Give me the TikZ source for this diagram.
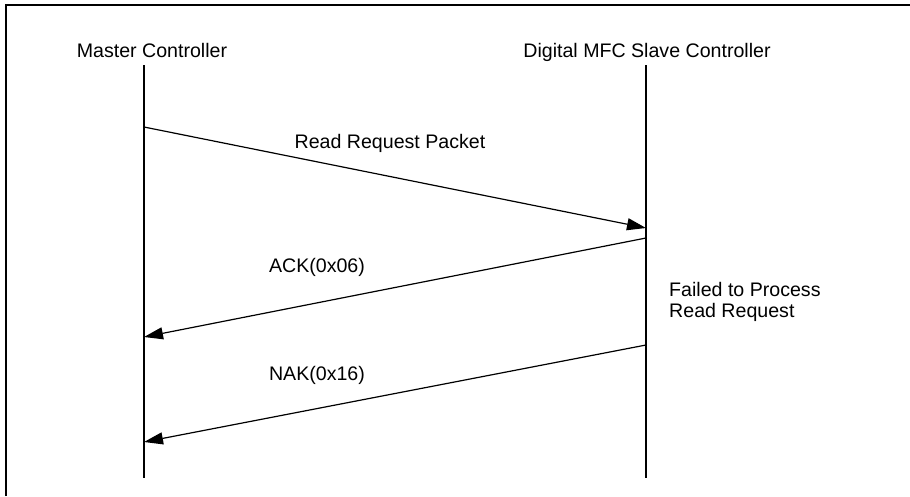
\documentclass[tikz,border=0pt]{standalone}
\usepackage{fontspec}
\setmainfont{Liberation Sans}
\usetikzlibrary{arrows.meta}
\begin{document}
\begin{tikzpicture}[x=1pt,y=-1pt,
  lbl/.style={font=\fontsize{19.6}{21.5}\selectfont, inner sep=0pt, anchor=base},
  life/.style={line width=1.8pt},
  msg/.style={line width=1.2pt, -{Triangle[length=19pt,width=12pt]}}]
\useasboundingbox (0,0) rectangle (910,496);
\draw[line width=2.2pt] (6,496) -- (6,5) -- (910,5);
% lifeline endpoints
\coordinate (mtop) at (144,65);
\coordinate (mbot) at (144,478);
\coordinate (stop) at (646,65);
\coordinate (sbot) at (646,478);
\draw[life] (mtop) -- (mbot);
\draw[life] (stop) -- (sbot);
\node[lbl] (mlabel) at (152,57) {Master Controller};
\node[lbl] (slabel) at (647,57) {Digital MFC Slave Controller};
% messages
\coordinate (a1) at (144,127);
\coordinate (b1) at (646,228);
\coordinate (a2) at (646,238);
\coordinate (b2) at (144,337);
\coordinate (a3) at (646,345);
\coordinate (b3) at (144,442);
\draw[msg] (a1) -- (b1);
\draw[msg] (a2) -- (b2);
\draw[msg] (a3) -- (b3);
\node[lbl] (l1) at (390,148) {Read Request Packet};
\node[lbl] (l2) at (317,272) {ACK(0x06)};
\node[lbl] (l3) at (317,380) {NAK(0x16)};
\node[lbl, anchor=west, align=left] (l4) at (669,302) {Failed to Process\\Read Request};
\end{tikzpicture}
\end{document}
